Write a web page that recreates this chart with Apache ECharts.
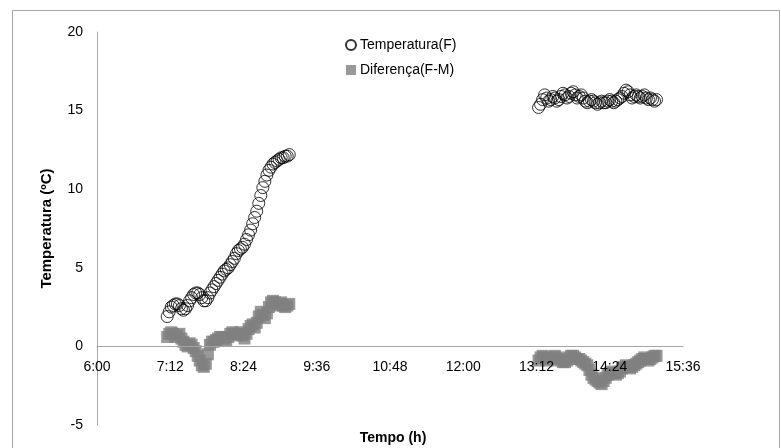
<!DOCTYPE html>
<html>
<head>
<meta charset="utf-8">
<script src="https://cdn.jsdelivr.net/npm/echarts@6/dist/echarts.min.js"></script>
<style>html,body{margin:0;padding:0;background:#fff;}#c{width:781px;height:448px;}</style>
</head>
<body>
<div id="c"></div>
<script>
// ---- Data ----
var xTickLabels = ['6:00','7:12','8:24','9:36','10:48','12:00','13:12','14:24','15:36'];
var yTicks = [-5, 0, 5, 10, 15, 20];

var times1 = ['7:09','7:11','7:13','7:15','7:17','7:19','7:21','7:23','7:25','7:27','7:29','7:31','7:33','7:35','7:37','7:39','7:41','7:43','7:45','7:47','7:49','7:51','7:53','7:55','7:57','7:59','8:01','8:03','8:05','8:07','8:09','8:11','8:13','8:15','8:17','8:19','8:21','8:23','8:25','8:27','8:29','8:31','8:33','8:35','8:37','8:39','8:41','8:43','8:45','8:47','8:49','8:51','8:53','8:55','8:57','8:59','9:01','9:03','9:05','9:07','9:09'];
var temp1 = [1.9,2.2,2.5,2.6,2.7,2.7,2.6,2.4,2.3,2.4,2.6,2.9,3.1,3.3,3.4,3.4,3.3,3.1,2.9,2.9,3.1,3.4,3.6,3.8,4.0,4.2,4.4,4.6,4.8,4.9,5.0,5.2,5.4,5.6,5.9,6.1,6.2,6.3,6.5,6.8,7.1,7.4,7.8,8.2,8.6,9.1,9.6,10.1,10.5,10.9,11.2,11.4,11.6,11.7,11.8,11.9,12.0,12.0,12.1,12.1,12.2];
var diff1 = [0.6,0.8,0.9,0.8,0.6,0.7,0.8,0.5,0.3,0.1,0.0,0.2,0.1,-0.1,-0.3,-0.6,-0.9,-1.2,-1.3,-1.1,-0.5,0.1,0.3,0.3,0.4,0.5,0.6,0.6,0.5,0.4,0.6,0.8,0.9,0.8,0.7,0.8,0.9,0.7,0.5,0.8,1.1,1.3,1.4,1.2,1.5,1.9,2.2,2.0,1.8,2.1,2.5,2.8,2.9,2.8,2.6,2.7,2.8,2.6,2.5,2.6,2.7];

var times2 = ['13:14','13:16','13:18','13:20','13:22','13:24','13:26','13:28','13:30','13:32','13:34','13:36','13:38','13:40','13:42','13:44','13:46','13:48','13:50','13:52','13:54','13:56','13:58','14:00','14:02','14:04','14:06','14:08','14:10','14:12','14:14','14:16','14:18','14:20','14:22','14:24','14:26','14:28','14:30','14:32','14:34','14:36','14:38','14:40','14:42','14:44','14:46','14:48','14:50','14:52','14:54','14:56','14:58','15:00','15:02','15:04','15:06','15:08','15:10'];
var temp2 = [15.2,15.4,15.7,16.0,15.8,15.6,15.7,15.9,15.8,15.6,15.7,15.9,16.1,16.0,15.8,15.9,16.1,16.2,16.0,15.8,15.9,16.0,15.8,15.6,15.5,15.6,15.7,15.6,15.5,15.4,15.5,15.6,15.5,15.5,15.6,15.7,15.6,15.5,15.6,15.7,15.8,15.9,16.1,16.3,16.2,16.0,15.8,15.9,16.0,15.9,15.8,15.9,16.0,15.8,15.7,15.8,15.7,15.6,15.7];
var diff2 = [-0.9,-0.7,-0.6,-0.7,-0.8,-0.9,-0.8,-0.7,-0.6,-0.7,-0.8,-0.9,-1.0,-1.0,-0.9,-0.7,-0.6,-0.6,-0.7,-0.8,-0.8,-0.9,-1.0,-1.1,-1.2,-1.5,-1.8,-2.0,-2.1,-2.2,-2.3,-2.4,-2.2,-2.0,-1.8,-1.7,-1.6,-1.7,-1.8,-1.7,-1.6,-1.4,-1.3,-1.2,-1.3,-1.4,-1.3,-1.2,-1.1,-1.0,-0.9,-0.8,-0.7,-0.8,-0.9,-0.8,-0.7,-0.6,-0.6];

// ---- Helpers ----
function toMin(s){ var p = s.split(':'); return parseInt(p[0],10)*60 + parseInt(p[1],10); }
function fmt(m){ var h = Math.floor(m/60), mm = Math.round(m - h*60); return h + ':' + (mm < 10 ? '0' : '') + mm; }
function pairs(ts, vs){ return ts.map(function(t,i){ return [toMin(t), vs[i]]; }); }

var xMin = toMin(xTickLabels[0]);
var xMax = toMin(xTickLabels[xTickLabels.length-1]);
var xInt = toMin(xTickLabels[1]) - xMin;
var yMin = yTicks[0], yMax = yTicks[yTicks.length-1];

var tempData = pairs(times1, temp1).concat(pairs(times2, temp2));
var diffData = pairs(times1, diff1).concat(pairs(times2, diff2));

var W = 781, H = 448;
var gridTop = 32, gridBottom = 23;
var plotH = H - gridTop - gridBottom;
// put the horizontal axis (line + labels) where y = 0 lies
var zeroOffset = -plotH * (0 - yMin) / (yMax - yMin);

var font = '"Liberation Sans", Arial, sans-serif';
var chart = echarts.init(document.getElementById('c'));
chart.setOption({
  animation: false,
  backgroundColor: '#fff',
  grid: { left: 97, right: 98, top: gridTop, bottom: gridBottom, containLabel: false },
  legend: {
    orient: 'vertical', left: 340, top: 33, itemWidth: 10, itemHeight: 10, itemGap: 11,
    textStyle: { fontFamily: font, fontSize: 14, color: '#000', padding: [0,0,0,-1] },
    data: [
      { name: 'Temperatura(F)', icon: 'circle' },
      { name: 'Diferença(F-M)', icon: 'rect' }
    ]
  },
  graphic: [
    { type: 'rect', shape: { x: 12.5, y: 10.5, width: 767, height: 460 }, style: { fill: 'none', stroke: '#a6a6a6', lineWidth: 1 }, silent: true },
    { type: 'text', x: 393, y: 438, style: { text: 'Tempo (h)', font: 'bold 14px ' + font, fill: '#000', align: 'center', verticalAlign: 'middle' } }
  ],
  xAxis: {
    type: 'value', min: xMin, max: xMax, interval: xInt,
    offset: zeroOffset, z: 5,
    axisLine: { onZero: false, lineStyle: { color: '#a6a6a6', width: 1 } },
    axisTick: { show: false },
    splitLine: { show: false },
    axisLabel: { margin: 14, color: '#000', fontFamily: font, fontSize: 14, formatter: function(v){ return fmt(v); } }
  },
  yAxis: {
    type: 'value', min: yMin, max: yMax, interval: 5,
    name: 'Temperatura (ºC)', nameLocation: 'middle', nameGap: 43, nameRotate: 90,
    nameTextStyle: { fontFamily: font, fontSize: 15, fontWeight: 'bold', color: '#000' },
    axisLine: { show: true, onZero: false, lineStyle: { color: '#a6a6a6', width: 1 } },
    axisTick: { show: false },
    splitLine: { show: false },
    axisLabel: { margin: 14, color: '#000', fontFamily: font, fontSize: 14 }
  },
  series: [
    {
      name: 'Temperatura(F)', type: 'scatter', symbol: 'circle', symbolSize: 12,
      data: tempData,
      itemStyle: { color: 'rgba(255,255,255,0)', borderColor: '#000', borderWidth: 1 }
    },
    {
      name: 'Diferença(F-M)', type: 'scatter', symbol: 'rect', symbolSize: 12,
      data: diffData,
      itemStyle: { color: '#808080' }
    }
  ]
});
</script>
</body>
</html>
